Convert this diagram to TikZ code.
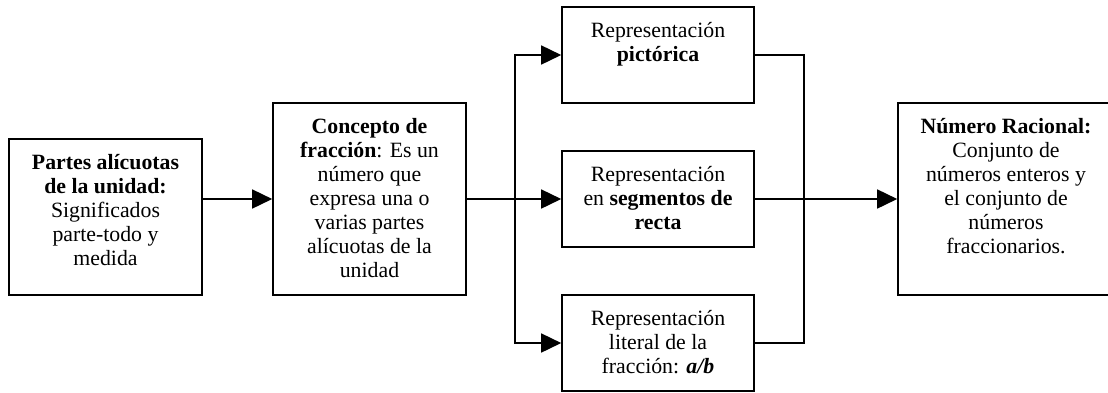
\documentclass[tikz,border=0pt]{standalone}
\usepackage{fontspec}
\setmainfont{Liberation Serif}
\usetikzlibrary{arrows.meta}
\tikzset{
  boxnode/.style={draw, line width=1.6pt, inner sep=0pt, minimum width=193pt},
  txt/.style={anchor=north, align=center, inner sep=0pt, font=\fontsize{21.8}{24}\selectfont},
  conn/.style={line width=1.6pt},
  arr/.style={conn, -{Triangle[length=20pt, width=19pt]}}
}
\begin{document}
\begin{tikzpicture}[x=1pt,y=-1pt]
\useasboundingbox (0,0) rectangle (1108,392);
% boxes
\node[boxnode, minimum height=156pt] (b1) at (105.5,217) {};
\node[boxnode, minimum height=192pt] (b2) at (369.5,199) {};
\node[boxnode, minimum width=192pt, minimum height=96pt] (r1) at (658,55) {};
\node[boxnode, minimum width=192pt, minimum height=96pt] (r2) at (658,199) {};
\node[boxnode, minimum width=192pt, minimum height=96pt] (r3) at (658,343) {};
\node[boxnode, minimum width=216pt, minimum height=192pt] (b4) at (1006,199) {};
% texts
\node[txt] (t1) at ([yshift=-16pt]b1.north) {\textbf{Partes alícuotas}\\\textbf{de la unidad:}\\Significados\\parte-todo y\\medida};
\node[txt] (t2) at ([yshift=-16pt]b2.north) {\textbf{Concepto de}\\\textbf{fracción}: Es un\\número que\\expresa una o\\varias partes\\alícuotas de la\\unidad};
\node[txt] (tr1) at ([yshift=-16pt]r1.north) {Representación\\\textbf{pictórica}};
\node[txt] (tr2) at ([yshift=-16pt]r2.north) {Representación\\en \textbf{segmentos de}\\\textbf{recta}};
\node[txt] (tr3) at ([yshift=-16pt]r3.north) {Representación\\literal de la\\fracción: \textbf{\textit{a/b}}};
\node[txt] (t4) at ([yshift=-16pt]b4.north) {\textbf{Número Racional:}\\Conjunto de\\números enteros y\\el conjunto de\\números\\fraccionarios.};
% junctions
\coordinate (j) at (515,199);
\coordinate (m) at (804,199);
% connectors
\draw[arr] (b1.east |- b2.west) -- (b2.west);
\draw[arr] (b2.east) -- (r2.west);
\draw[arr] (j) |- (r1.west);
\draw[arr] (j) |- (r3.west);
\draw[conn] (r1.east) -| (m);
\draw[conn] (r3.east) -| (m);
\draw[arr] (r2.east) -- (b4.west);
\end{tikzpicture}
\end{document}
